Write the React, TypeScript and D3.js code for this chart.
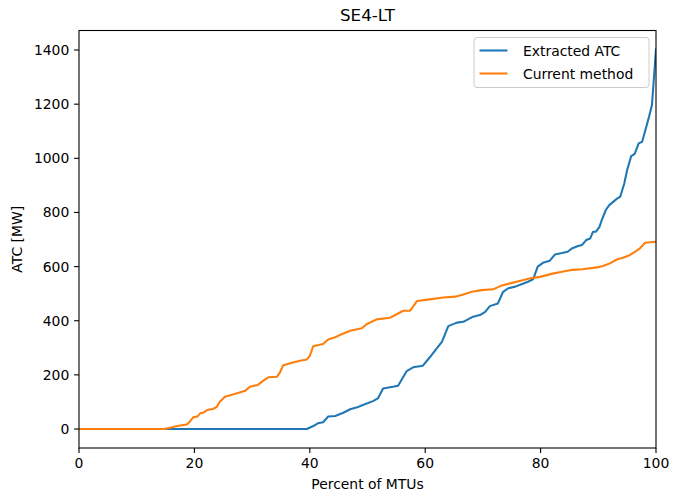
import React from "react";
import * as d3 from "d3";

const extractedX = [0, 39.5, 40.6, 41.4, 42.3, 43.2, 44.4, 45.8, 47.0, 48.2, 49.2, 50.95, 51.8, 52.7, 54.4, 55.3, 56.8, 57.9, 59.6, 60.8, 62.0, 62.9, 64.0, 65.5, 66.6, 68.3, 69.5, 70.4, 71.2, 72.6, 73.5, 74.4, 75.6, 76.8, 77.8, 78.7, 79.5, 80.4, 81.6, 82.5, 83.7, 84.7, 85.4, 86.5, 87.2, 87.9, 88.6, 89.1, 89.6, 90.2, 90.6, 91.3, 91.9, 93.3, 93.8, 94.5, 95.0, 95.7, 96.3, 97.0, 97.6, 98.8, 99.3, 100];
const extractedY = [0, 0, 11, 21, 25, 46, 48, 60, 73, 80, 89, 103, 113, 150, 156, 160, 214, 228, 234, 265, 298, 322, 380, 393, 396, 415, 421, 433, 454, 464, 507, 520, 526, 536, 544, 553, 600, 614, 622, 645, 650, 655, 667, 676, 680, 698, 704, 729, 729, 747, 772, 809, 827, 852, 858, 907, 957, 1008, 1016, 1055, 1061, 1154, 1197, 1402];

const currentX = [0, 14.9, 15.8, 17.0, 18.7, 19.2, 19.8, 20.5, 21.0, 21.5, 22.2, 23.2, 23.9, 24.4, 25.3, 27.4, 28.8, 29.6, 31.0, 31.9, 32.8, 34.3, 34.8, 35.4, 36.9, 38.3, 39.5, 40.0, 40.6, 42.3, 43.2, 44.4, 45.2, 47.0, 49.0, 49.9, 51.6, 53.9, 56.2, 57.4, 58.6, 60.8, 63.1, 65.2, 66.6, 68.1, 69.8, 71.8, 73.0, 74.7, 76.4, 78.2, 79.9, 82.1, 83.7, 85.6, 87.2, 89.8, 90.8, 92.0, 93.3, 94.3, 95.5, 96.4, 97.2, 98.1, 100];
const currentY = [0, 0, 5, 11, 17, 27, 43, 46, 58, 60, 70, 74, 82, 101, 119, 132, 141, 156, 163, 178, 191, 193, 208, 236, 245, 252, 257, 270, 306, 314, 331, 339, 347, 363, 372, 388, 405, 411, 437, 437, 473, 479, 486, 489, 497, 507, 513, 516, 528, 538, 547, 557, 562, 574, 581, 588, 590, 597, 602, 612, 627, 633, 643, 655, 667, 688, 692];

const xTicks = [0, 20, 40, 60, 80, 100];
const yTicks = [0, 200, 400, 600, 800, 1000, 1200, 1400];
const seriesNames = ["Extracted ATC", "Current method"];
const seriesColors = ["#1f77b4", "#ff7f0e"];

const W = 673, H = 493;
const L = 79, R = 656, T = 30.5, B = 448;
const FONT = "DejaVu Sans, sans-serif";

export default function App() {
  const x = d3.scaleLinear().domain([0, 100]).range([L, R]);
  const y = d3.scaleLinear().domain([-70.1, 1472.1]).range([B, T]);
  const line = d3.line<[number, number]>().x(d => x(d[0])).y(d => y(d[1]));
  const blue = line(extractedX.map((v, i) => [v, extractedY[i]] as [number, number])) || "";
  const orange = line(currentX.map((v, i) => [v, currentY[i]] as [number, number])) || "";
  const lgX = 474, lgY = 37.5, lgW = 175, lgH = 50;
  return (
    <svg width={W} height={H} style={{ position: "absolute", left: 0, top: 0, background: "#fff" }} fontFamily={FONT}>
      <rect x={0} y={0} width={W} height={H} fill="#fff" />
      <defs>
        <clipPath id="ax"><rect x={L} y={T} width={R - L} height={B - T} /></clipPath>
      </defs>
      <g clipPath="url(#ax)">
        <path d={blue} fill="none" stroke={seriesColors[0]} strokeWidth={2.08} strokeLinejoin="round" strokeLinecap="square" />
        <path d={orange} fill="none" stroke={seriesColors[1]} strokeWidth={2.08} strokeLinejoin="round" strokeLinecap="square" />
      </g>
      <rect x={L} y={T} width={R - L} height={B - T} fill="none" stroke="#000" strokeWidth={1.1} />
      {xTicks.map(t => (
        <g key={"x" + t}>
          <line x1={x(t)} x2={x(t)} y1={B} y2={B + 4.9} stroke="#000" strokeWidth={1.1} />
          <text x={x(t)} y={B + 20} fontSize={13.9} textAnchor="middle" fill="#000">{t}</text>
        </g>
      ))}
      {yTicks.map(t => (
        <g key={"y" + t}>
          <line x1={L - 4.9} x2={L} y1={y(t)} y2={y(t)} stroke="#000" strokeWidth={1.1} />
          <text x={L - 9.7} y={y(t)} dy="0.36em" fontSize={13.9} textAnchor="end" fill="#000">{t}</text>
        </g>
      ))}
      <text x={(L + R) / 2} y={489} fontSize={13.9} textAnchor="middle" fill="#000">Percent of MTUs</text>
      <text transform={`translate(22,${(T + B) / 2}) rotate(-90)`} fontSize={13.9} textAnchor="middle" fill="#000">ATC [MW]</text>
      <text x={(L + R) / 2} y={21} fontSize={16.7} textAnchor="middle" fill="#000">SE4-LT</text>
      <rect x={lgX} y={lgY} width={lgW} height={lgH} rx={3} fill="#fff" fillOpacity={0.8} stroke="#cccccc" strokeWidth={1} />
      {seriesNames.map((n, i) => (
        <g key={n}>
          <line x1={lgX + 5.5} x2={lgX + 33.5} y1={lgY + 13 + i * 23} y2={lgY + 13 + i * 23} stroke={seriesColors[i]} strokeWidth={2.08} />
          <text x={lgX + 49} y={lgY + 13 + i * 23} dy="0.36em" fontSize={13.9} fill="#000">{n}</text>
        </g>
      ))}
    </svg>
  );
}
